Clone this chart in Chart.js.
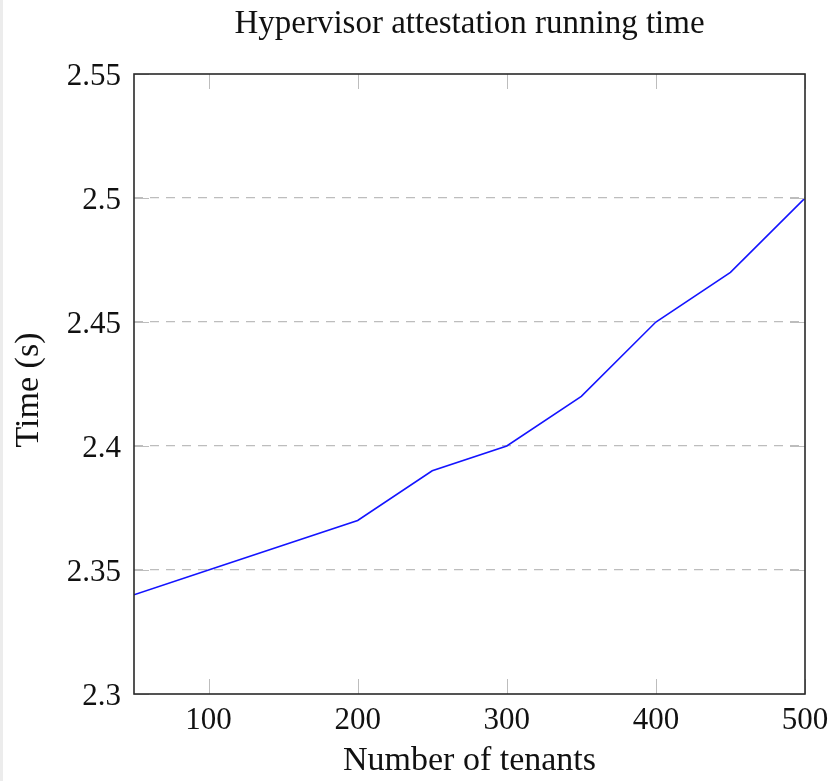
<!DOCTYPE html>
<html>
<head>
<meta charset="utf-8">
<script src="https://cdn.jsdelivr.net/npm/chart.js@4.4.1/dist/chart.umd.min.js"></script>
<style>
  html, body { margin: 0; padding: 0; background: #ffffff; }
  #wrap { width: 829px; height: 781px; position: relative; }
</style>
</head>
<body>
<div id="wrap"><canvas id="c" width="829" height="781"></canvas></div>
<script>
const tenants = [50, 100, 150, 200, 250, 300, 350, 400, 450, 500];
const timeSeconds = [2.34, 2.35, 2.36, 2.37, 2.39, 2.40, 2.42, 2.45, 2.47, 2.50];
const xTickValues = [100, 200, 300, 400, 500];
const yTickValues = [2.3, 2.35, 2.4, 2.45, 2.5, 2.55];
const yTickLabels = ['2.3', '2.35', '2.4', '2.45', '2.5', '2.55'];
const chartTitle = 'Hypervisor attestation running time';
const xTitle = 'Number of tenants';
const yTitle = 'Time (s)';

const FONT = "'Liberation Serif', 'Times New Roman', serif";

const framePlugin = {
  id: 'framePlugin',
  beforeDraw(chart) {
    const ctx = chart.ctx;
    ctx.save();
    ctx.fillStyle = '#ececec';
    ctx.fillRect(0, 0, 3, chart.height);
    ctx.restore();
  },
  afterDatasetsDraw(chart) {
    const ctx = chart.ctx;
    const a = chart.chartArea;
    const xs = chart.scales.x, ys = chart.scales.y;
    ctx.save();
    ctx.strokeStyle = '#bdbdbd';
    ctx.lineWidth = 1;
    const tl = 15;
    xTickValues.forEach(v => {
      const px = Math.round(xs.getPixelForValue(v)) + 0.5;
      ctx.beginPath();
      ctx.moveTo(px, a.bottom); ctx.lineTo(px, a.bottom - tl);
      ctx.moveTo(px, a.top); ctx.lineTo(px, a.top + tl);
      ctx.stroke();
    });
    yTickValues.forEach(v => {
      const py = Math.round(ys.getPixelForValue(v)) + 0.5;
      ctx.beginPath();
      ctx.moveTo(a.left, py); ctx.lineTo(a.left + tl, py);
      ctx.moveTo(a.right, py); ctx.lineTo(a.right - tl, py);
      ctx.stroke();
    });
    ctx.strokeStyle = '#2a2a2a';
    ctx.lineWidth = 1.6;
    ctx.strokeRect(a.left, a.top, a.right - a.left, a.bottom - a.top);

    // chart title, centred over the plot area
    ctx.fillStyle = '#111';
    ctx.textAlign = 'center';
    ctx.textBaseline = 'alphabetic';
    ctx.font = '33px ' + FONT;
    ctx.fillText(chartTitle, (a.left + a.right) / 2, 33);

    // y axis title
    ctx.save();
    ctx.translate(38, (a.top + a.bottom) / 2 + 6);
    ctx.rotate(-Math.PI / 2);
    ctx.font = '34px ' + FONT;
    ctx.fillText(yTitle, 0, 0);
    ctx.restore();
    ctx.restore();
  }
};

new Chart(document.getElementById('c'), {
  type: 'line',
  data: {
    datasets: [{
      data: tenants.map((t, i) => ({ x: t, y: timeSeconds[i] })),
      borderColor: '#1414ff',
      borderWidth: 1.6,
      pointRadius: 0,
      tension: 0,
      fill: false
    }]
  },
  options: {
    responsive: false,
    animation: false,
    devicePixelRatio: 1,
    layout: { padding: { left: 0, right: 24, top: 74, bottom: 0 } },
    plugins: {
      legend: { display: false },
      tooltip: { enabled: false },
      title: { display: false }
    },
    scales: {
      x: {
        type: 'linear',
        min: 50,
        max: 500,
        afterBuildTicks(scale) { scale.ticks = xTickValues.map(v => ({ value: v })); },
        afterFit(scale) { scale.height = 87; scale.paddingLeft = 0; scale.paddingRight = 0; },
        grid: { display: false, drawTicks: false },
        border: { display: false },
        ticks: {
          color: '#111',
          padding: 8,
          maxRotation: 0,
          font: { family: FONT, size: 31 },
          callback: (v) => String(v)
        },
        title: {
          display: true,
          text: xTitle,
          color: '#111',
          font: { family: FONT, size: 34 },
          padding: { top: 0, bottom: 0 }
        }
      },
      y: {
        type: 'linear',
        min: 2.3,
        max: 2.55,
        afterBuildTicks(scale) { scale.ticks = yTickValues.map(v => ({ value: v })); },
        afterFit(scale) { scale.width = 134; scale.paddingTop = 0; scale.paddingBottom = 0; },
        grid: {
          drawTicks: false,
          lineWidth: 1.2,
          color: (c) => {
            const v = c.tick ? c.tick.value : null;
            if (v === 2.3 || v === 2.55) return 'rgba(0,0,0,0)';
            return '#bdbdbd';
          }
        },
        border: { display: false, dash: [9, 7] },
        ticks: {
          color: '#111',
          padding: 13,
          labelOffset: 3,
          font: { family: FONT, size: 31 },
          callback: (v) => {
            const i = yTickValues.findIndex(t => Math.abs(t - v) < 1e-9);
            return i >= 0 ? yTickLabels[i] : '';
          }
        },
        title: { display: false }
      }
    }
  },
  plugins: [framePlugin]
});
</script>
</body>
</html>
